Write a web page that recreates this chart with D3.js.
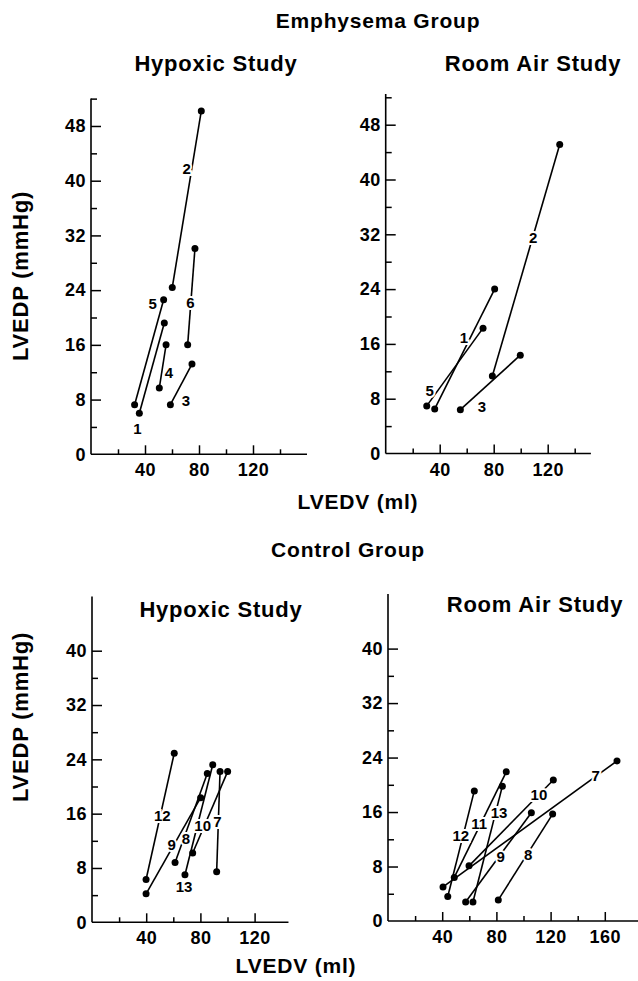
<!DOCTYPE html>
<html><head><meta charset="utf-8">
<script src="https://cdn.jsdelivr.net/npm/d3@7"></script>
<style>
html,body{margin:0;padding:0;background:#fff;}
svg{display:block;}
text{font-family:"Liberation Sans",Arial,Helvetica,sans-serif;fill:#000;}
</style></head>
<body><div id="chart"></div>
<script>
// ---- Data (LVEDV in ml, LVEDP in mmHg; each subject: [first, second]) ----
const emphHypoxicIds = [1, 2, 3, 4, 5, 6];
const emphHypoxicEDV = [[35.8, 54.3], [60.2, 81.7], [58.8, 74.8], [50.6, 55.6], [32.3, 53.8], [71.6, 77.0]];
const emphHypoxicEDP = [[6.0, 19.2], [24.4, 50.2], [7.25, 13.2], [9.7, 16.0], [7.25, 22.6], [16.0, 30.1]];
const emphHypoxicLabelAt = [[34.3, 3.8], [70.8, 41.8], [70.4, 7.9], [57.8, 12.0], [45.6, 22.0], [73.6, 22.2]];

const emphRoomIds = [1, 2, 3, 5];
const emphRoomEDV = [[36.3, 80.7], [79.0, 128.9], [55.3, 99.7], [30.4, 72.1]];
const emphRoomEDP = [[6.5, 24.0], [11.3, 45.1], [6.4, 14.35], [6.95, 18.3]];
const emphRoomLabelAt = [[58.0, 17.0], [109.3, 31.6], [71.3, 6.9], [32.6, 9.2]];

const ctrlHypoxicIds = [7, 8, 9, 10, 12, 13];
const ctrlHypoxicEDV = [[92.0, 94.5], [61.3, 85.1], [39.9, 80.2], [74.3, 100.1], [39.9, 60.7], [68.6, 89.1]];
const ctrlHypoxicEDP = [[7.45, 22.2], [8.8, 21.9], [4.2, 18.35], [10.2, 22.2], [6.3, 24.9], [7.0, 23.2]];
const ctrlHypoxicLabelAt = [[92.5, 14.8], [69.4, 12.4], [58.8, 11.5], [81.7, 14.2], [51.9, 15.8], [67.9, 5.2]];

const ctrlRoomIds = [7, 8, 9, 10, 11, 12, 13];
const ctrlRoomEDV = [[40.6, 169.0], [81.4, 121.5], [57.3, 105.8], [59.8, 122.0], [48.9, 87.3], [44.1, 63.7], [62.7, 84.4]];
const ctrlRoomEDP = [[5.0, 23.5], [3.1, 15.7], [2.8, 15.9], [8.1, 20.7], [6.4, 21.9], [3.6, 19.1], [2.8, 19.8]];
const ctrlRoomLabelAt = [[153.3, 21.4], [103.5, 9.8], [83.2, 9.4], [111.4, 18.6], [67.2, 14.3], [53.7, 12.6], [81.9, 15.9]];

const groupTitles = ["Emphysema Group", "Control Group"];
const studyTitles = ["Hypoxic Study", "Room Air Study"];
const xAxisTitle = "LVEDV (ml)";
const yAxisTitle = "LVEDP (mmHg)";
const xMajorTicks = [40, 80, 120, 160];
const topYMajorTicks = [0, 8, 16, 24, 32, 40, 48];
const bottomYMajorTicks = [0, 8, 16, 24, 32, 40];

// ---- Layout ----
const W = 638, H = 981;
const svg = d3.select("#chart").append("svg").attr("width", W).attr("height", H);

const panels = [
  {ids: emphHypoxicIds, edv: emphHypoxicEDV, edp: emphHypoxicEDP, lab: emphHypoxicLabelAt,
   left: 91, bottom: 454.3, xMax: 160, yMax: 52, kx: 1.35, ky: 6.84, xTickMax: 140, yTickMax: 52, yMajor: topYMajorTicks, xMajorMax: 120},
  {ids: emphRoomIds, edv: emphRoomEDV, edp: emphRoomEDP, lab: emphRoomLabelAt,
   left: 385.7, bottom: 453.5, xMax: 152, yMax: 52.5, kx: 1.35, ky: 6.85, xTickMax: 140, yTickMax: 52, yMajor: topYMajorTicks, xMajorMax: 120},
  {ids: ctrlHypoxicIds, edv: ctrlHypoxicEDV, edp: ctrlHypoxicEDP, lab: ctrlHypoxicLabelAt,
   left: 92, bottom: 922.3, xMax: 145, yMax: 48, kx: 1.355, ky: 6.79, xTickMax: 120, yTickMax: 40, yMajor: bottomYMajorTicks, xMajorMax: 120},
  {ids: ctrlRoomIds, edv: ctrlRoomEDV, edp: ctrlRoomEDP, lab: ctrlRoomLabelAt,
   left: 388, bottom: 921, xMax: 185, yMax: 48, kx: 1.355, ky: 6.81, xTickMax: 160, yTickMax: 40, yMajor: bottomYMajorTicks, xMajorMax: 160}
];

const tickFont = "bold 18px 'Liberation Sans', Arial, sans-serif";

panels.forEach(p => {
  const x = d3.scaleLinear().domain([0, p.xMax]).range([p.left, p.left + p.xMax * p.kx]);
  const y = d3.scaleLinear().domain([0, p.yMax]).range([p.bottom, p.bottom - p.yMax * p.ky]);
  const g = svg.append("g");

  g.append("line").attr("x1", x(0)).attr("x2", x(0)).attr("y1", y(0)).attr("y2", y(p.yMax))
    .attr("stroke", "#000").attr("stroke-width", 1.6);
  g.append("line").attr("x1", x(0)).attr("x2", x(p.xMax)).attr("y1", y(0)).attr("y2", y(0))
    .attr("stroke", "#000").attr("stroke-width", 1.6);

  const yMinor = d3.range(4, p.yTickMax + 0.1, 8);
  const yMinorAxis = d3.axisLeft(y).tickValues(yMinor).tickSizeInner(-6).tickSizeOuter(0).tickFormat("");
  const gy1 = g.append("g").attr("transform", `translate(${x(0)},0)`).call(yMinorAxis);
  const yMajorAxis = d3.axisLeft(y).tickValues(p.yMajor).tickSizeInner(-10).tickSizeOuter(0).tickPadding(5);
  const gy2 = g.append("g").attr("transform", `translate(${x(0)},0)`).call(yMajorAxis);
  [gy1, gy2].forEach(a => { a.select(".domain").remove(); a.selectAll("line").attr("stroke", "#000").attr("stroke-width", 1.5); });
  gy2.selectAll(".tick line").filter(d => d === 0).remove();
  gy2.selectAll("text").style("font", tickFont).attr("fill", "#000").attr("letter-spacing", "0.5px");

  const xMinor = d3.range(20, p.xTickMax + 0.1, 40);
  const xMinorAxis = d3.axisBottom(x).tickValues(xMinor).tickSizeInner(-5).tickSizeOuter(0).tickFormat("");
  const xMajorAxis = d3.axisBottom(x).tickValues(xMajorTicks.filter(v => v <= p.xMajorMax)).tickSizeInner(-9).tickSizeOuter(0).tickPadding(4);
  const gx1 = g.append("g").attr("transform", `translate(0,${y(0)})`).call(xMinorAxis);
  const gx2 = g.append("g").attr("transform", `translate(0,${y(0)})`).call(xMajorAxis);
  [gx1, gx2].forEach(a => { a.select(".domain").remove(); a.selectAll("line").attr("stroke", "#000").attr("stroke-width", 1.5); });
  gx2.selectAll("text").style("font", tickFont).attr("fill", "#000").attr("letter-spacing", "0.5px").attr("dy", "1em");

  p.ids.forEach((id, i) => {
    g.append("line")
      .attr("x1", x(p.edv[i][0])).attr("y1", y(p.edp[i][0]))
      .attr("x2", x(p.edv[i][1])).attr("y2", y(p.edp[i][1]))
      .attr("stroke", "#000").attr("stroke-width", 1.6);
  });
  p.ids.forEach((id, i) => {
    [0, 1].forEach(k => {
      g.append("circle").attr("cx", x(p.edv[i][k])).attr("cy", y(p.edp[i][k])).attr("r", 3.5).attr("fill", "#000");
    });
  });
  p.ids.forEach((id, i) => {
    g.append("text").attr("x", x(p.lab[i][0])).attr("y", y(p.lab[i][1]))
      .attr("text-anchor", "middle").attr("dominant-baseline", "central")
      .style("font", "bold 15px 'Liberation Sans', Arial, sans-serif")
      .attr("stroke", "#fff").attr("stroke-width", 4).attr("paint-order", "stroke")
      .text(id);
  });
});

// ---- Titles ----
function title(txt, cx, cy, size, rot) {
  const t = svg.append("text").attr("text-anchor", "middle").attr("dominant-baseline", "central")
    .style("font", `bold ${size}px 'Liberation Sans', Arial, sans-serif`).attr("letter-spacing", "0.8px").text(txt);
  if (rot) t.attr("transform", `translate(${cx},${cy}) rotate(-90)`);
  else t.attr("x", cx).attr("y", cy);
  return t;
}
title(groupTitles[0], 378, 20, 21);
title(studyTitles[0], 216, 63, 22);
title(studyTitles[1], 533, 63, 22);
title(xAxisTitle, 358, 501, 21);
title(groupTitles[1], 348, 549, 21);
title(studyTitles[0], 221, 609, 22);
title(studyTitles[1], 535, 604, 22);
title(xAxisTitle, 296, 965, 21);
title(yAxisTitle, 20, 276, 22, true);
title(yAxisTitle, 20, 717, 22, true);
</script>
</body></html>
